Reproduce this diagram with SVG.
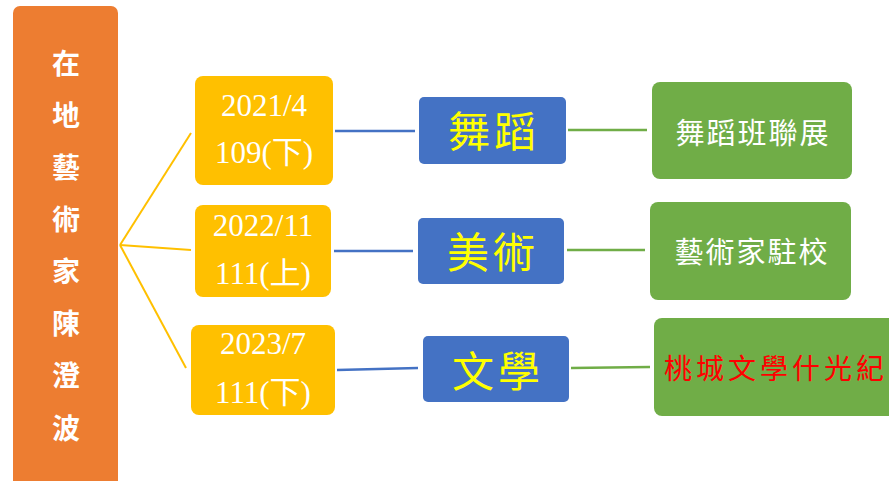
<svg xmlns="http://www.w3.org/2000/svg" width="889" height="481" viewBox="0 0 889 481">
<style>
.orange{fill:#ED7D31}
.yellow{fill:#FFC000}
.blue{fill:#4472C4}
.green{fill:#70AD47}
.vt{font-family:"Noto Sans CJK TC","Noto Sans CJK SC",sans-serif;font-weight:bold;font-size:28px;fill:#FFFFFF;text-anchor:middle;dominant-baseline:central}
.dt{font-family:"Liberation Serif","Noto Sans CJK TC",serif;font-size:31px;fill:#FFFFFF;text-anchor:middle}
.bt{font-family:"Noto Sans CJK TC","Noto Sans CJK SC",sans-serif;font-size:42px;fill:#FFFF00;text-anchor:middle;dominant-baseline:central;letter-spacing:4px}
.gt{font-family:"Noto Sans CJK TC","Noto Sans CJK SC",sans-serif;font-size:29px;fill:#FFFFFF;text-anchor:middle;dominant-baseline:central;letter-spacing:2px}
.rt{fill:#FF0000}
.ly{stroke:#FFC000;stroke-width:2;fill:none}
.lb{stroke:#4472C4;stroke-width:2.5;fill:none}
.lg{stroke:#70AD47;stroke-width:2.5;fill:none}
</style>
<rect width="889" height="481" fill="#FFFFFF"/>
<g id="connectors">
<line class="ly" x1="120" y1="245" x2="191" y2="133"/>
<line class="ly" x1="120" y1="245" x2="191" y2="250"/>
<line class="ly" x1="120" y1="245" x2="186" y2="368"/>
<line class="lb" x1="335" y1="131" x2="415" y2="131"/>
<line class="lb" x1="334" y1="251" x2="413" y2="251"/>
<line class="lb" x1="337" y1="370" x2="418" y2="368"/>
<line class="lg" x1="568" y1="130" x2="647" y2="130"/>
<line class="lg" x1="567" y1="250" x2="645" y2="250"/>
<line class="lg" x1="571" y1="368" x2="650" y2="367"/>
</g>
<g id="root">
<rect class="orange" x="13" y="6" width="105" height="482" rx="7"/>
<text class="vt" x="66" y="62">在</text>
<text class="vt" x="66" y="114">地</text>
<text class="vt" x="66" y="166">藝</text>
<text class="vt" x="66" y="218">術</text>
<text class="vt" x="66" y="270">家</text>
<text class="vt" x="66" y="322">陳</text>
<text class="vt" x="66" y="374">澄</text>
<text class="vt" x="66" y="427">波</text>
</g>
<g id="date1">
<rect class="yellow" x="195" y="76" width="138" height="109" rx="8"/>
<text class="dt" x="264" y="116">2021/4</text>
<text class="dt" x="264" y="163">109(下)</text>
</g>
<g id="date2">
<rect class="yellow" x="195" y="205" width="136" height="92" rx="8"/>
<text class="dt" x="263" y="236">2022/11</text>
<text class="dt" x="263" y="284">111(上)</text>
</g>
<g id="date3">
<rect class="yellow" x="191" y="325" width="144" height="90" rx="8"/>
<text class="dt" x="263" y="354">2023/7</text>
<text class="dt" x="263" y="403">111(下)</text>
</g>
<g id="cat1">
<rect class="blue" x="419" y="97" width="147" height="67" rx="5"/>
<text class="bt" x="494" y="128">舞蹈</text>
</g>
<g id="cat2">
<rect class="blue" x="418" y="218" width="146" height="66" rx="5"/>
<text class="bt" x="493" y="249">美術</text>
</g>
<g id="cat3">
<rect class="blue" x="423" y="336" width="146" height="66" rx="5"/>
<text class="bt" x="498" y="368">文學</text>
</g>
<g id="event1">
<rect class="green" x="652" y="82" width="200" height="97" rx="8"/>
<text class="gt" x="753" y="131">舞蹈班聯展</text>
</g>
<g id="event2">
<rect class="green" x="650" y="202" width="201" height="98" rx="8"/>
<text class="gt" x="752" y="250">藝術家駐校</text>
</g>
<g id="event3">
<rect class="green" x="654" y="318" width="245" height="98" rx="8"/>
<text class="gt rt" x="776" y="367" style="font-size:28px;letter-spacing:4px">桃城文學什光紀</text>
</g>
</svg>
